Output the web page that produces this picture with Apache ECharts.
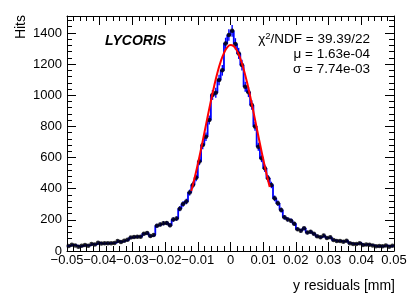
<!DOCTYPE html>
<html><head><meta charset="utf-8">
<script src="https://cdn.jsdelivr.net/npm/echarts@6/dist/echarts.min.js"></script>
<style>html,body{margin:0;padding:0;background:#fff}#c{width:415px;height:300px}</style>
</head><body><div id="c"></div>
<script>
// ---- data ----
const binLow = -0.05;
const binWidth = 0.001;
const hits = [
  32, 40, 36, 28, 33, 38, 34, 45, 41, 53,
  48, 49, 49, 50, 52, 64, 58, 66, 72, 86,
  90, 92, 92, 110, 116, 96, 102, 162, 170, 178,
  180, 165, 202, 208, 272, 302, 318, 375, 424, 470,
  575, 680, 734, 841, 1002, 1016, 1098, 1160, 1333, 1387,
  1414, 1330, 1269, 1194, 1055, 1020, 937, 800, 670, 595,
  531, 467, 424, 338, 306, 263, 216, 203, 195, 175,
  140, 130, 146, 118, 124, 110, 94, 88, 100, 84,
  88, 70, 64, 64, 60, 66, 50, 45, 45, 50,
  38, 42, 40, 36, 30, 32, 30, 36, 28, 34
];
const fitX = [-0.012, -0.011, -0.010, -0.009, -0.008, -0.007, -0.006, -0.005, -0.004, -0.003, -0.002, -0.001, 0,
  0.001, 0.002, 0.003, 0.004, 0.005, 0.006, 0.007, 0.008, 0.009, 0.010, 0.011, 0.012];
const fitY = [385, 467, 558, 656, 758, 862, 963, 1058, 1144, 1216, 1271, 1307, 1322,
  1314, 1285, 1236, 1169, 1088, 995, 895, 792, 689, 590, 496, 411];
const xTickLabels = [-0.05, -0.04, -0.03, -0.02, -0.01, 0, 0.01, 0.02, 0.03, 0.04, 0.05];
const yTickLabels = [0, 200, 400, 600, 800, 1000, 1200, 1400];
const yMinorStep = 40;
const yMax = 1509;
const statsLines = ['χ{sup|2}/NDF = 39.39/22', 'μ = 1.63e-04', 'σ = 7.74e-03'];

// ---- derived ----
const centers = hits.map((v, i) => binLow + binWidth * (i + 0.5));
const stepData = [];
hits.forEach((v, i) => {
  const lo = binLow + binWidth * i;
  stepData.push([lo, v], [lo + binWidth, v]);
});
const pointData = hits.map((v, i) => [centers[i], v]);
const errData = hits.map((v, i) => [centers[i], v, Math.sqrt(v)]);
const fitData = fitX.map((x, i) => [x, fitY[i]]);
const yMinor = [];
for (let v = yMinorStep; v < yMax; v += yMinorStep) if (v % 200 !== 0) yMinor.push(v);

const FONT = '"Liberation Sans", Arial, Helvetica, sans-serif';
const fmtX = v => {
  if (Math.abs(v) < 1e-9) return '0';
  return (v < 0 ? '\u2212' : '') + Math.abs(v).toFixed(2);
};
const baseX = {
  type: 'value', min: -0.05, max: 0.05, interval: 0.01,
  axisLine: { show: true, onZero: false, lineStyle: { color: '#000', width: 1 } },
  axisTick: { show: true, inside: true, length: 9, lineStyle: { color: '#000' } },
  minorTick: { show: true, splitNumber: 5, length: 5, lineStyle: { color: '#000' } },
  splitLine: { show: false }
};
const yCommon = { type: 'value', min: 0, max: yMax, splitLine: { show: false } };

const chart = echarts.init(document.getElementById('c'), null, { renderer: 'canvas' });
chart.setOption({
  animation: false,
  backgroundColor: '#fff',
  grid: { left: 67, right: 21, top: 16, bottom: 49, containLabel: false },
  xAxis: [
    Object.assign({}, baseX, {
      position: 'bottom',
      axisLabel: { show: true, margin: 3, color: '#000', fontSize: 13, fontFamily: FONT, formatter: fmtX }
    }),
    Object.assign({}, baseX, { position: 'top', axisLabel: { show: false } })
  ],
  yAxis: [
    Object.assign({}, yCommon, {
      position: 'left',
      axisLine: { show: true, onZero: false, lineStyle: { color: '#000' } },
      axisTick: { show: true, inside: true, length: 9, customValues: yTickLabels, lineStyle: { color: '#000' } },
      axisLabel: { show: true, customValues: yTickLabels, margin: 5, color: '#000', fontSize: 13, fontFamily: FONT,
        formatter: v => String(Math.round(v)) }
    }),
    Object.assign({}, yCommon, {
      position: 'left',
      axisLine: { show: false, onZero: false },
      axisTick: { show: true, inside: true, length: 5, customValues: yMinor, lineStyle: { color: '#000' } },
      axisLabel: { show: false }
    }),
    Object.assign({}, yCommon, {
      position: 'right',
      axisLine: { show: true, onZero: false, lineStyle: { color: '#000' } },
      axisTick: { show: true, inside: true, length: 9, customValues: yTickLabels, lineStyle: { color: '#000' } },
      axisLabel: { show: false }
    }),
    Object.assign({}, yCommon, {
      position: 'right',
      axisLine: { show: false, onZero: false },
      axisTick: { show: true, inside: true, length: 5, customValues: yMinor, lineStyle: { color: '#000' } },
      axisLabel: { show: false }
    })
  ],
  series: [
    {
      type: 'line', data: stepData, xAxisIndex: 0, yAxisIndex: 0,
      showSymbol: false, symbol: 'none',
      lineStyle: { color: '#0000ff', width: 1.8 }, z: 2
    },
    {
      type: 'custom', data: errData, xAxisIndex: 0, yAxisIndex: 0, z: 3,
      renderItem: function (params, api) {
        const x = api.value(0), y = api.value(1), e = api.value(2);
        const p1 = api.coord([x, y - e]);
        const p2 = api.coord([x, y + e]);
        return { type: 'line', shape: { x1: p1[0], y1: p1[1], x2: p2[0], y2: p2[1] },
          style: { stroke: '#0000ff', lineWidth: 1.4 } };
      }
    },
    {
      type: 'scatter', data: pointData, xAxisIndex: 0, yAxisIndex: 0,
      symbol: 'circle', symbolSize: 4.5,
      itemStyle: { color: '#000' }, z: 4
    },
    {
      type: 'line', data: fitData, xAxisIndex: 0, yAxisIndex: 0,
      smooth: true, showSymbol: false, symbol: 'none',
      lineStyle: { color: '#ff0000', width: 2 }, z: 5
    }
  ],
  graphic: [
    { type: 'text', x: 21, y: 15, rotation: Math.PI / 2,
      style: { text: 'Hits', align: 'right', verticalAlign: 'middle', fill: '#000', font: '14px ' + FONT } },
    { type: 'text', x: 395, y: 286,
      style: { text: 'y residuals [mm]', align: 'right', verticalAlign: 'middle', fill: '#000', font: '14px ' + FONT } },
    { type: 'text', x: 105, y: 41,
      style: { text: 'LYCORIS', align: 'left', verticalAlign: 'middle', fill: '#000', font: 'italic bold 14px ' + FONT } },
    { type: 'text', x: 370, y: 39,
      style: { text: statsLines[0], align: 'right', verticalAlign: 'middle', fill: '#000', font: '13.5px ' + FONT,
        rich: { sup: { fontSize: 9.5, verticalAlign: 'top', padding: [0, 0, 6, 0], fontFamily: FONT, fill: '#000' } } } },
    { type: 'text', x: 370, y: 54,
      style: { text: statsLines[1], align: 'right', verticalAlign: 'middle', fill: '#000', font: '13.5px ' + FONT } },
    { type: 'text', x: 370, y: 69,
      style: { text: statsLines[2], align: 'right', verticalAlign: 'middle', fill: '#000', font: '13.5px ' + FONT } }
  ]
});
</script>
</body></html>
